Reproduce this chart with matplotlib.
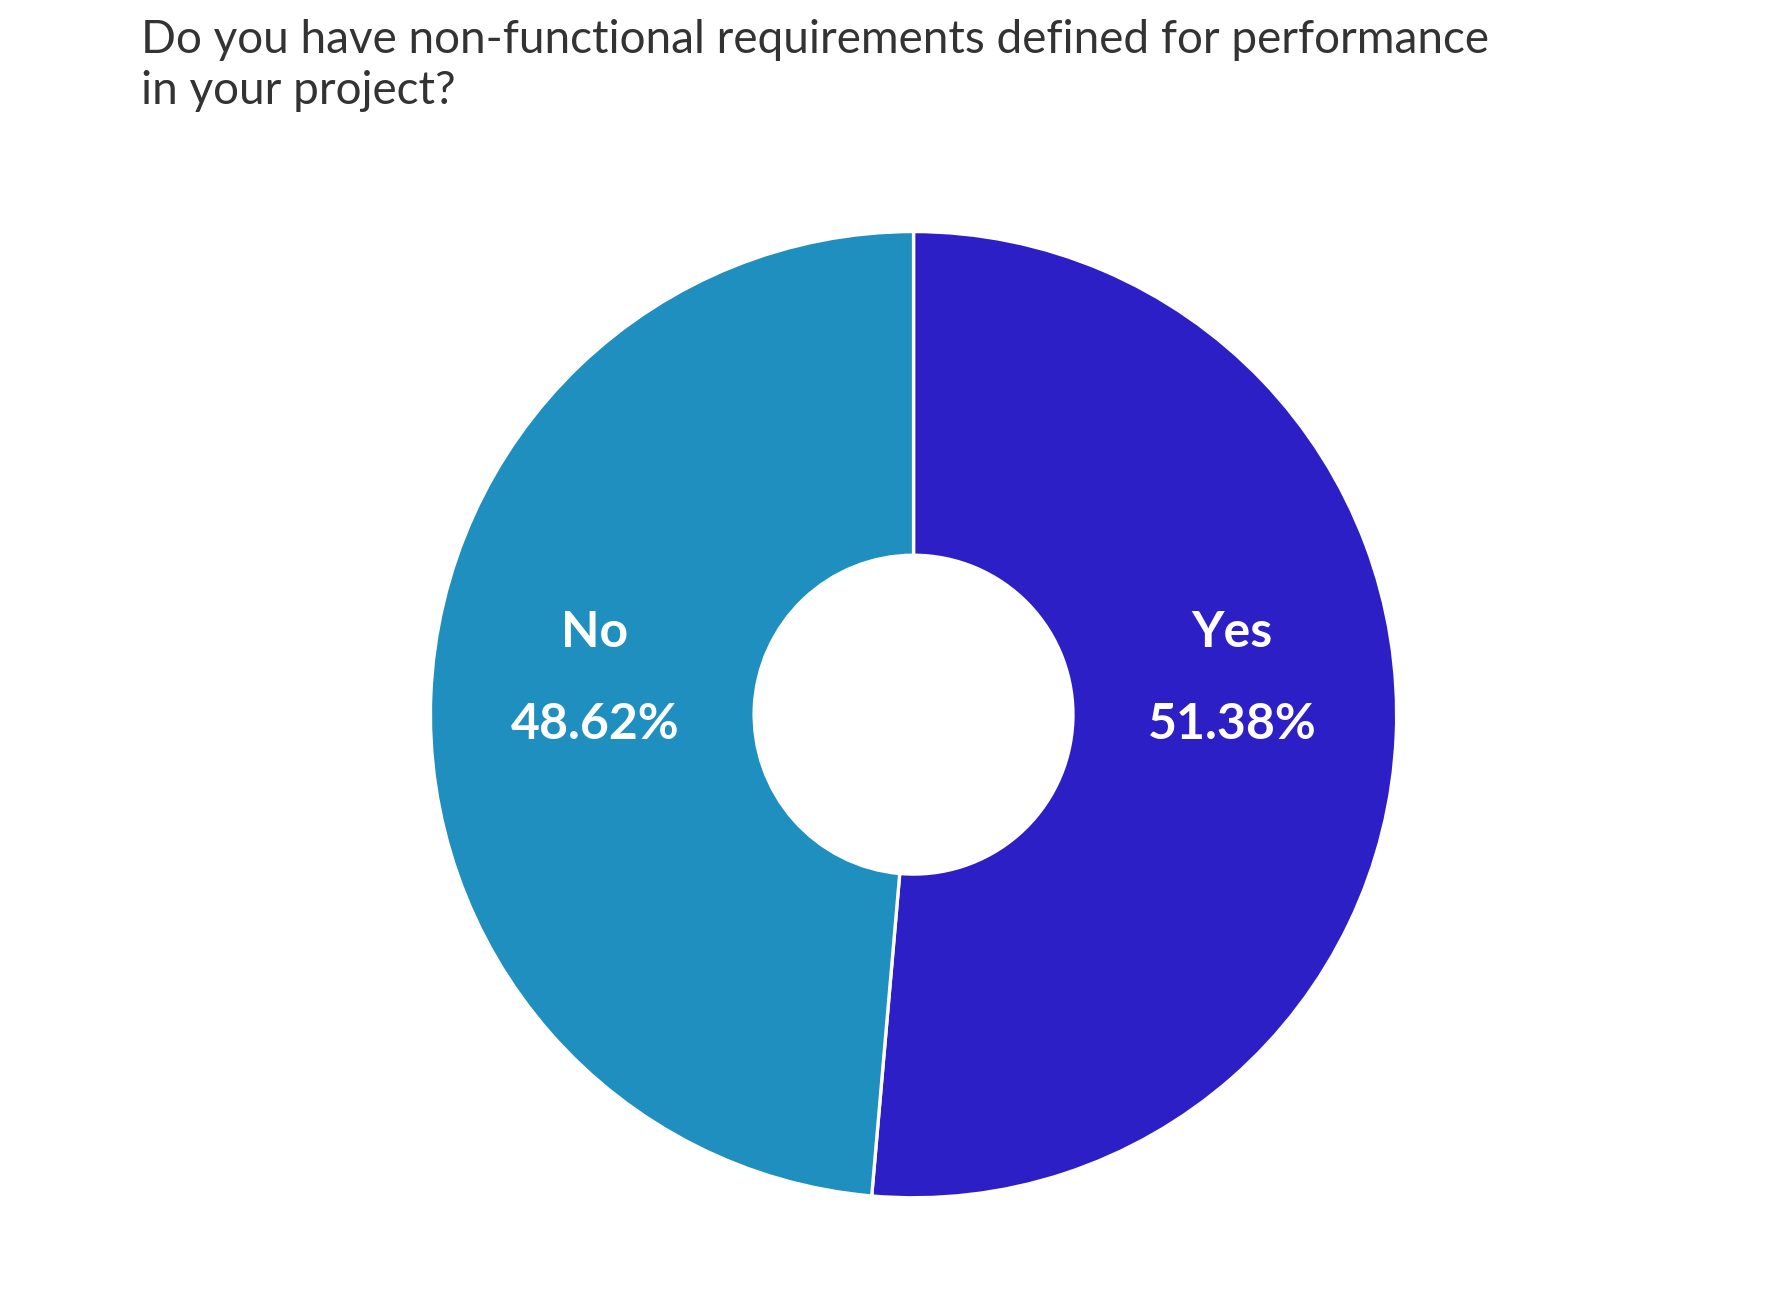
import matplotlib
matplotlib.use("Agg")
import matplotlib.pyplot as plt
import numpy as np

categories = ["Yes", "No"]
values = [51.38, 48.62]
colors = ["#2D1FC6", "#1E8FBE"]

fig = plt.figure(figsize=(8.93, 6.45), dpi=200)
fig.text(0.079, 0.985, "Do you have non-functional requirements defined for performance\nin your project?",
         ha="left", va="top", fontsize=16.5, family="Lato", color="#333333", linespacing=1.25)

ax = fig.add_axes([0.5115 - 0.2705, 0.446 - 0.376, 0.541, 0.752])
ax.pie(values, colors=colors, startangle=90, counterclock=False, radius=1,
       wedgeprops=dict(width=0.67, edgecolor="white", linewidth=1.2))
ax.set_xlim(-1, 1); ax.set_ylim(-1, 1); ax.set_aspect("equal")

# label positions from wedge mid-angles
start = 90.0
for cat, v in zip(categories, values):
    mid = np.deg2rad(start - v / 100 * 180)
    start -= v / 100 * 360
    x = 0.66 * np.sign(np.cos(mid))
    ax.text(x, 0.17, cat, ha="center", va="center", color="white", fontsize=18,
            fontweight="bold", family="Lato")
    ax.text(x, -0.02, f"{v:.2f}%", ha="center", va="center", color="white", fontsize=18,
            fontweight="bold", family="Lato")

fig.savefig("out.png", dpi=200, facecolor="white")
